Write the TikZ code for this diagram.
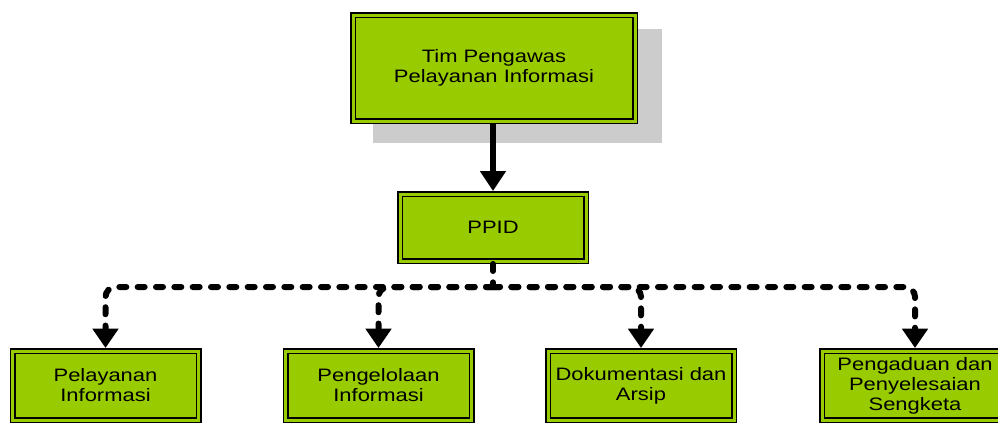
\documentclass[tikz,border=0pt]{standalone}
\usepackage{fontspec}
\setmainfont{Liberation Sans}[FakeStretch=1.22]
\usetikzlibrary{arrows.meta}
\definecolor{boxgreen}{HTML}{99CC00}
\definecolor{shadowgray}{HTML}{CCCCCC}
\begin{document}
\begin{tikzpicture}[x=0.75pt,y=-0.75pt,
  gbox/.style={draw=black, fill=boxgreen, line width=1.125pt, double=boxgreen,
    double distance=2.25pt, outer sep=2.25pt, inner sep=0pt, align=center,
    font=\fontsize{13.5pt}{14.6pt}\selectfont},
  topbox/.style={gbox, minimum width=211.5pt, minimum height=79.5pt},
  midbox/.style={gbox, minimum width=139.5pt, minimum height=50.25pt},
  botbox/.style={gbox, minimum width=139.5pt, minimum height=51.75pt,
    font=\fontsize{13.5pt}{15pt}\selectfont},
  mainarrow/.style={line width=4.5pt, -{Triangle[width=18.75pt,length=15pt]}},
  dotline/.style={line width=4.5pt, line cap=round, dash pattern=on 5.25pt off 8.5pt},
  dotarrow/.style={dotline, rounded corners=7.5pt,
    -{Triangle[width=18.75pt,length=14.5pt]}}]
\useasboundingbox (0,0) rectangle (998,422);
\fill[shadowgray] (373,29) rectangle (662,143);
\node[topbox] (top) at (494,68) {Tim Pengawas\\Pelayanan Informasi};
\node[midbox] (ppid) at (493,227.5) {PPID};
\node[botbox] (b1) at (105.5,385.5) {Pelayanan\\Informasi};
\node[botbox] (b2) at (378.5,385.5) {Pengelolaan\\Informasi};
\node[botbox] (b3) at (641,385.5) {Dokumentasi dan\\Arsip};
\node[botbox] (b4) at (915,385.5) {Pengaduan dan\\Penyelesaian\\Sengketa};
\draw[mainarrow] (top.south -| ppid.north) -- (ppid.north);
\path (ppid.south) ++(0,23) coordinate (j);
\draw[dotline] (ppid.south) -- (j);
\foreach \b in {b1,b2,b3,b4}{
  \draw[dotarrow] (j) -| (\b.north);
}
\end{tikzpicture}
\end{document}
